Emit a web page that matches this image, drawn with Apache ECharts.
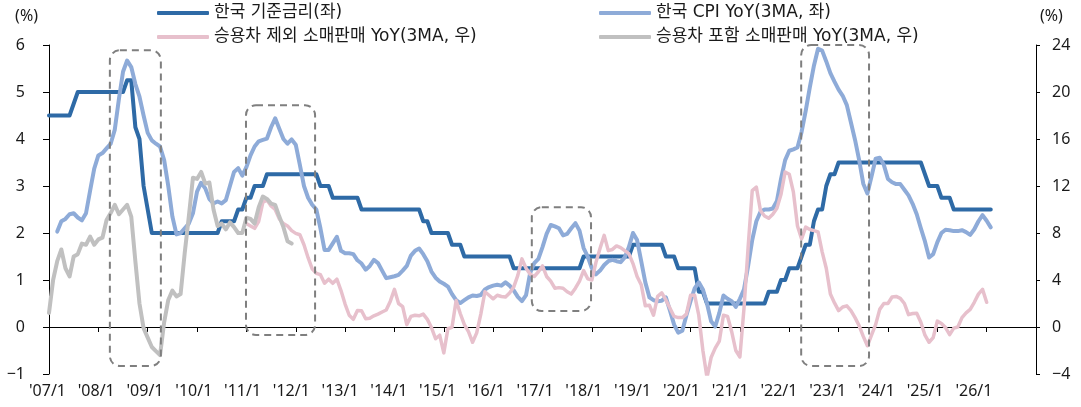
<!DOCTYPE html>
<html>
<head>
<meta charset="utf-8">
<script src="https://cdn.jsdelivr.net/npm/echarts@6/dist/echarts.min.js"></script>
<style>
  html, body { margin: 0; padding: 0; background: #fff; }
  #chart { width: 1081px; height: 407px; }
</style>
</head>
<body>
<div id="chart"></div>
<script>
// Monthly series. Month index 0 = 2007/1, one step per month.
const yearLabels = ["'07/1", "'08/1", "'09/1", "'10/1", "'11/1", "'12/1", "'13/1", "'14/1", "'15/1", "'16/1",
                    "'17/1", "'18/1", "'19/1", "'20/1", "'21/1", "'22/1", "'23/1", "'24/1", "'25/1", "'26/1"];

const seriesNames = {
  rate: '한국 기준금리(좌)',
  cpi: '한국 CPI YoY(3MA, 좌)',
  exAuto: '승용차 제외 소매판매 YoY(3MA, 우)',
  inclAuto: '승용차 포함 소매판매 YoY(3MA, 우)'
};

// Korea base rate, % (from 2007/1)
const baseRateStart = 0;
const baseRate = [
  4.5, 4.5, 4.5, 4.5, 4.5, 4.5, 4.75, 5, 5, 5, 5, 5,
  5, 5, 5, 5, 5, 5, 5, 5.25, 5.25, 4.25, 4, 3,
  2.5, 2, 2, 2, 2, 2, 2, 2, 2, 2, 2, 2,
  2, 2, 2, 2, 2, 2, 2.25, 2.25, 2.25, 2.25, 2.5, 2.5,
  2.75, 2.75, 3, 3, 3, 3.25, 3.25, 3.25, 3.25, 3.25, 3.25, 3.25,
  3.25, 3.25, 3.25, 3.25, 3.25, 3.25, 3, 3, 3, 2.75, 2.75, 2.75,
  2.75, 2.75, 2.75, 2.75, 2.5, 2.5, 2.5, 2.5, 2.5, 2.5, 2.5, 2.5,
  2.5, 2.5, 2.5, 2.5, 2.5, 2.5, 2.5, 2.25, 2.25, 2, 2, 2,
  2, 2, 1.75, 1.75, 1.75, 1.5, 1.5, 1.5, 1.5, 1.5, 1.5, 1.5,
  1.5, 1.5, 1.5, 1.5, 1.5, 1.25, 1.25, 1.25, 1.25, 1.25, 1.25, 1.25,
  1.25, 1.25, 1.25, 1.25, 1.25, 1.25, 1.25, 1.25, 1.25, 1.25, 1.5, 1.5,
  1.5, 1.5, 1.5, 1.5, 1.5, 1.5, 1.5, 1.5, 1.5, 1.5, 1.75, 1.75,
  1.75, 1.75, 1.75, 1.75, 1.75, 1.75, 1.5, 1.5, 1.5, 1.25, 1.25, 1.25,
  1.25, 1.25, 0.75, 0.75, 0.5, 0.5, 0.5, 0.5, 0.5, 0.5, 0.5, 0.5,
  0.5, 0.5, 0.5, 0.5, 0.5, 0.5, 0.5, 0.75, 0.75, 0.75, 1, 1,
  1.25, 1.25, 1.25, 1.5, 1.75, 1.75, 2.25, 2.5, 2.5, 3, 3.25, 3.25,
  3.5, 3.5, 3.5, 3.5, 3.5, 3.5, 3.5, 3.5, 3.5, 3.5, 3.5, 3.5,
  3.5, 3.5, 3.5, 3.5, 3.5, 3.5, 3.5, 3.5, 3.5, 3.25, 3, 3,
  3, 2.75, 2.75, 2.75, 2.5, 2.5, 2.5, 2.5, 2.5, 2.5, 2.5, 2.5,
  2.5, 2.5
];

// Korea CPI YoY, 3-month average, % (from 2007/3)
const cpiStart = 2;
const cpiYoY = [
  2.03, 2.25, 2.30, 2.40, 2.42, 2.33, 2.27, 2.42, 2.90, 3.37,
  3.65, 3.70, 3.80, 3.90, 4.20, 4.85, 5.43, 5.67, 5.53, 5.17, 4.90, 4.50,
  4.13, 3.97, 3.90, 3.84, 3.55, 3.00, 2.35, 1.97, 2.00, 2.10, 2.20, 2.42,
  2.88, 3.07, 2.95, 2.72, 2.63, 2.67, 2.63, 2.70, 3.00, 3.30, 3.38, 3.22,
  3.40, 3.65, 3.84, 3.95, 3.98, 4.01, 4.25, 4.44, 4.22, 4.00, 3.90, 3.99,
  3.88, 3.45, 3.00, 2.75, 2.60, 2.50, 2.10, 1.64, 1.64, 1.78, 1.92, 1.62,
  1.57, 1.57, 1.55, 1.42, 1.35, 1.22, 1.30, 1.43, 1.36, 1.20, 1.04, 1.06,
  1.08, 1.11, 1.20, 1.30, 1.52, 1.62, 1.67, 1.55, 1.40, 1.18, 1.05, 0.97,
  0.92, 0.86, 0.70, 0.57, 0.51, 0.57, 0.63, 0.67, 0.66, 0.68, 0.80, 0.85,
  0.88, 0.90, 0.88, 0.95, 0.88, 0.78, 0.64, 0.55, 0.68, 1.15, 1.36, 1.45,
  1.70, 1.98, 2.17, 2.14, 2.10, 1.95, 1.98, 2.10, 2.21, 2.05, 1.68, 1.50,
  1.25, 1.12, 1.20, 1.32, 1.40, 1.43, 1.40, 1.38, 1.48, 1.70, 2.00, 1.85,
  1.40, 0.95, 0.63, 0.57, 0.55, 0.56, 0.63, 0.35, 0.05, -0.12, -0.08, 0.25,
  0.55, 0.82, 0.95, 0.80, 0.50, 0.12, 0.01, 0.30, 0.67, 0.60, 0.55, 0.43,
  0.60, 0.80, 1.30, 1.85, 2.25, 2.45, 2.50, 2.50, 2.52, 2.68, 3.15, 3.55,
  3.75, 3.78, 3.82, 4.15, 4.60, 5.10, 5.56, 5.92, 5.88, 5.65, 5.40, 5.22,
  5.05, 4.92, 4.72, 4.35, 3.98, 3.55, 3.05, 2.84, 3.20, 3.58, 3.60, 3.45,
  3.15, 3.08, 3.04, 3.04, 2.92, 2.80, 2.62, 2.40, 2.10, 1.82, 1.48, 1.55,
  1.80, 2.00, 2.07, 2.06, 2.04, 2.04, 2.06, 2.02, 1.96, 2.08, 2.25, 2.38,
  2.26, 2.12
];

// Retail sales excluding passenger cars, YoY 3MA, % (from 2011/1)
const exAutoStart = 48;
const retailExAuto = [
  8.8, 8.6, 8.4, 9.0, 10.6, 10.8, 10.3, 10.0, 9.2, 8.8, 8.6, 8.2,
  7.97, 7.85, 7.0, 5.9, 4.95, 4.57, 4.45, 3.72, 4.07, 3.72, 4.07, 3.1,
  1.95, 1.0, 0.65, 1.4, 1.38, 0.7, 0.75, 0.95, 1.1, 1.28, 1.45, 2.2,
  3.2, 2.0, 1.73, 0.2, 0.9, 1.0, 0.95, 1.1, 0.65, -0.05, -1.0, -0.7,
  -2.2, -0.15, -0.03, 2.25, 1.15, 0.2, -0.4, -1.3, -0.5, 1.1, 3.0, 2.7,
  2.4, 2.7, 2.6, 2.55, 2.9, 3.4, 4.4, 5.8, 5.0, 4.5, 4.3, 4.7,
  5.2, 4.3, 3.9, 3.3, 3.35, 3.3, 3.0, 2.8, 3.3, 3.9, 4.8, 4.1,
  4.0, 5.5, 6.7, 7.8, 6.5, 6.6, 6.9, 6.75, 6.5, 6.25, 5.4, 4.3,
  3.6, 1.8, 1.85, 1.0, 2.6, 2.9, 2.3, 1.6, 0.9, 0.8, 0.8, 1.1,
  2.7, 2.7, 1.0, -2.0, -4.3, -2.6, -1.8, -1.2, 1.0, 0.9, -0.4, -2.0,
  -2.55, 1.6, 6.8, 11.6, 11.9, 9.9, 9.45, 9.25, 9.6, 10.1, 11.3, 13.2,
  13.0, 11.5, 8.6, 7.5, 8.5, 8.3, 8.2, 8.1, 6.4, 5.0, 2.8, 2.05,
  1.4, 1.7, 1.8, 1.4, 0.8, 0.1, -0.8, -1.6, -0.7, 0.2, 1.5, 2.0,
  2.0, 2.55, 2.6, 2.44, 2.0, 1.05, 1.15, 1.17, 0.4, -0.7, -1.3, -0.9,
  0.5, 0.3, -0.05, -0.65, -0.1, 0.0, 0.8, 1.2, 1.5, 2.1, 2.8, 3.2,
  2.1
];

// Retail sales including passenger cars, YoY 3MA, % (2007/1 - 2011/12)
const inclAutoStart = 0;
const retailInclAuto = [
  1.2, 4.0, 5.6, 6.6, 5.0, 4.3, 6.0, 6.2, 7.1, 7.0, 7.7, 7.0,
  7.45, 7.6, 9.1, 9.7, 10.4, 9.6, 10.0, 10.4, 9.4, 5.6, 2.0, -0.1,
  -0.9, -1.7, -2.05, -2.4, 0.4, 2.3, 3.1, 2.6, 2.8, 6.3, 9.4, 12.7,
  12.6, 13.2, 12.2, 12.3, 10.0, 8.6, 8.8, 8.3, 8.9, 8.5, 8.0, 8.0,
  9.3, 9.2, 8.8, 10.2, 11.1, 10.9, 10.5, 10.4, 9.4, 8.5, 7.3, 7.1
];

// Highlighted periods: [from month, to month, low, high] on the left-axis scale
const focusPeriods = [
  [14.8, 27.2, -0.83, 5.89],
  [47.9, 64.7, -0.17, 4.72],
  [117.4, 131.8, 0.34, 2.55],
  [182.9, 199.4, -0.83, 6.0]
];

const toPairs = (start, values) => values.map((v, i) => [start + i, v]);

const textColor = '#1a1a1a';
const axisFont = '"Noto Sans", sans-serif';
const legendFont = '"DejaVu Sans", "Noto Sans CJK KR", sans-serif';
const minusSign = v => String(v).replace('-', '\u2212');

const chart = echarts.init(document.getElementById('chart'), null, { renderer: 'canvas' });

const lineSeries = (name, start, values, color, width, yAxisIndex, z) => ({
  name,
  type: 'line',
  xAxisIndex: 0,
  yAxisIndex,
  data: toPairs(start, values),
  symbol: 'none',
  showSymbol: false,
  z,
  lineStyle: { color, width, cap: 'round', join: 'round' },
  itemStyle: { color },
  emphasis: { disabled: true }
});

const legendBase = {
  orient: 'vertical',
  top: 3,
  padding: 0,
  itemGap: 4,
  itemWidth: 52,
  itemHeight: 4,
  icon: 'roundRect',
  selectedMode: false,
  textStyle: { fontFamily: legendFont, fontSize: 17, color: textColor, lineHeight: 20 }
};

chart.setOption({
  animation: false,
  backgroundColor: '#ffffff',
  legend: [
    Object.assign({}, legendBase, { left: 157, data: [seriesNames.rate, seriesNames.exAuto] }),
    Object.assign({}, legendBase, { left: 599, data: [seriesNames.cpi, seriesNames.inclAuto] })
  ],
  grid: [
    { left: 49, right: 45, top: 45, bottom: 33 },
    { left: 47.5, right: 58.3, top: 45, bottom: 33 }
  ],
  xAxis: [
    {
      type: 'value', gridIndex: 0, min: 0, max: 240, interval: 12,
      axisLine: { show: true, onZero: true, onZeroAxisIndex: 0, lineStyle: { color: '#000', width: 1 } },
      axisTick: { show: true, length: 5, lineStyle: { color: '#000' } },
      axisLabel: { show: false },
      splitLine: { show: false }
    },
    {
      type: 'value', gridIndex: 1, min: 0, max: 240, interval: 12,
      axisLine: { show: false, onZero: false },
      axisTick: { show: false },
      splitLine: { show: false },
      axisLabel: {
        show: true, margin: 9, showMaxLabel: false,
        fontFamily: axisFont, fontSize: 16, color: textColor,
        formatter: v => yearLabels[Math.round(v / 12)] || ''
      }
    }
  ],
  yAxis: [
    {
      type: 'value', gridIndex: 0, min: -1, max: 6, interval: 1,
      name: '(%)', nameLocation: 'end', nameGap: 29,
      nameTextStyle: { fontFamily: axisFont, fontSize: 16, color: textColor, align: 'right', verticalAlign: 'middle', padding: [0, 11, 0, 0] },
      axisLine: { show: true, onZero: false, lineStyle: { color: '#000', width: 1 } },
      axisTick: { show: true, length: 6, lineStyle: { color: '#000' } },
      axisLabel: { margin: 24, fontFamily: axisFont, fontSize: 16, color: textColor, formatter: minusSign },
      splitLine: { show: false }
    },
    {
      type: 'value', gridIndex: 0, position: 'right', min: -4, max: 24, interval: 4,
      name: '(%)', nameLocation: 'end', nameGap: 29,
      nameTextStyle: { fontFamily: axisFont, fontSize: 16, color: textColor, align: 'left', verticalAlign: 'middle', padding: [0, 0, 0, 4] },
      axisLine: { show: true, onZero: false, lineStyle: { color: '#000', width: 1 } },
      axisTick: { show: true, length: 4, lineStyle: { color: '#000' } },
      axisLabel: { margin: 16, fontFamily: axisFont, fontSize: 16, color: textColor, formatter: minusSign },
      splitLine: { show: false }
    },
    {
      type: 'value', gridIndex: 1, min: 0, max: 1, show: false
    }
  ],
  series: [
    lineSeries(seriesNames.rate, baseRateStart, baseRate, '#2e6aa6', 4, 0, 2),
    lineSeries(seriesNames.cpi, cpiStart, cpiYoY, '#8eabd8', 4, 0, 3),
    lineSeries(seriesNames.exAuto, exAutoStart, retailExAuto, '#e7c0cc', 3.5, 1, 4),
    lineSeries(seriesNames.inclAuto, inclAutoStart, retailInclAuto, '#c0c0c0', 4, 1, 5)
  ]
});

// Dashed rounded frames around the highlighted periods, placed through the axis scales
const frames = focusPeriods.map(([x0, x1, lo, hi]) => {
  const p0 = chart.convertToPixel({ xAxisIndex: 0, yAxisIndex: 0 }, [x0, hi]);
  const p1 = chart.convertToPixel({ xAxisIndex: 0, yAxisIndex: 0 }, [x1, lo]);
  return {
    type: 'rect',
    z: 10,
    silent: true,
    shape: { x: p0[0], y: p0[1], width: p1[0] - p0[0], height: p1[1] - p0[1], r: 10 },
    style: { fill: null, stroke: '#7f7f7f', lineWidth: 2, lineDash: [7, 5] }
  };
});
chart.setOption({ graphic: frames });
</script>
</body>
</html>
